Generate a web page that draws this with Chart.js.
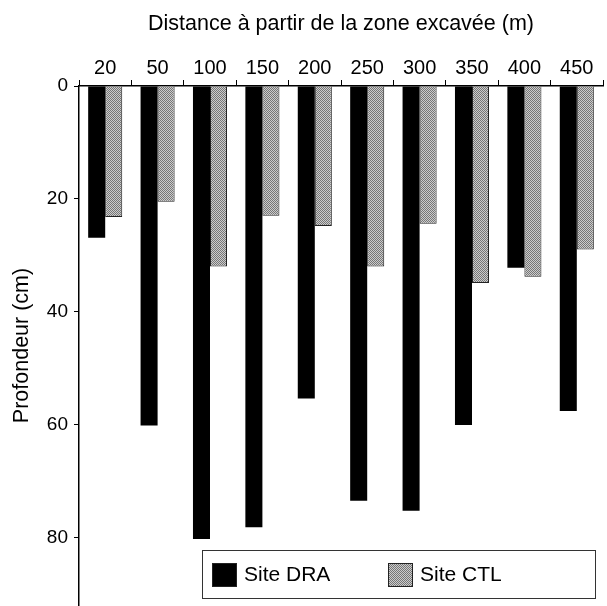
<!DOCTYPE html>
<html>
<head>
<meta charset="utf-8">
<script src="https://cdn.jsdelivr.net/npm/chart.js@4.4.0/dist/chart.umd.min.js"></script>
<style>
html,body{margin:0;padding:0;background:#fff;}
#wrap{width:607px;height:606px;position:relative;}
</style>
</head>
<body>
<div id="wrap"><canvas id="c" width="607" height="606"></canvas></div>
<script>
const categories = ["20","50","100","150","200","250","300","350","400","450"];
const seriesNames = ["Site DRA","Site CTL"];
const draDepth = [26.9, 60.2, 80.3, 78.2, 55.4, 73.5, 75.3, 60.1, 32.2, 57.6];
const ctlDepth = [23.2, 20.5, 32.0, 23.0, 24.8, 32.0, 24.4, 34.9, 33.8, 29.0];
const yTicks = [0, 20, 40, 60, 80];
const xTitle = "Distance à partir de la zone excavée (m)";
const yTitle = "Profondeur (cm)";

function makePattern(){
  const p = document.createElement('canvas');
  p.width = 2; p.height = 2;
  const g = p.getContext('2d');
  g.fillStyle = '#cccccc'; g.fillRect(0,0,2,2);
  g.fillStyle = '#767676'; g.fillRect(0,0,1,1); g.fillRect(1,1,1,1);
  return document.getElementById('c').getContext('2d').createPattern(p,'repeat');
}
const grey = makePattern();
const FONT = "'Liberation Sans', Arial, sans-serif";

const legendBox = {
  id: 'legendBox',
  afterDraw(chart){
    const ctx = chart.ctx;
    ctx.save();
    const x0 = 202, y0 = 550, w = 393, h = 48;
    ctx.fillStyle = '#fff';
    ctx.fillRect(x0, y0, w, h);
    ctx.strokeStyle = '#333';
    ctx.lineWidth = 1;
    ctx.strokeRect(x0+0.5, y0+0.5, w, h);
    const items = chart.data.datasets;
    const xs = [212, 388];
    ctx.font = "21px " + FONT;
    ctx.textBaseline = 'middle';
    items.forEach((ds, i) => {
      ctx.fillStyle = ds.backgroundColor;
      ctx.fillRect(xs[i], 563, 25, 24);
      ctx.strokeStyle = '#222';
      ctx.strokeRect(xs[i]+0.5, 563.5, 24, 23);
      ctx.fillStyle = '#000';
      ctx.fillText(ds.label, xs[i] + 32, 575);
    });
    ctx.restore();
  }
};

new Chart(document.getElementById('c'), {
  type: 'bar',
  data: {
    labels: categories,
    datasets: [
      { label: seriesNames[0], data: draDepth, backgroundColor: '#000', borderColor: '#000', borderWidth: 0 },
      { label: seriesNames[1], data: ctlDepth, backgroundColor: grey, borderColor: '#222', borderWidth: 1 }
    ]
  },
  options: {
    responsive: false,
    animation: false,
    layout: { padding: { left: 0, right: 4, top: 0, bottom: 1 } },
    datasets: { bar: { categoryPercentage: 0.65, barPercentage: 1.0 } },
    plugins: { legend: { display: false }, tooltip: { enabled: false } },
    scales: {
      x: {
        position: 'top',
        offset: true,
        afterFit(axis){ axis.height = 86; axis.paddingLeft = 0; axis.paddingRight = 0; },
        grid: { offset: true, drawOnChartArea: false, drawTicks: true, tickLength: 6, color: '#000', lineWidth: 1 },
        border: { display: true, color: '#000', width: 1.5 },
        ticks: { color: '#000', font: { size: 20, family: FONT }, padding: 0, maxRotation: 0, autoSkip: false },
        title: { display: true, text: xTitle, color: '#000', font: { size: 21.5, family: FONT }, padding: { top: 11, bottom: 0 } }
      },
      y: {
        reverse: true,
        min: 0,
        max: 92,
        afterFit(axis){ axis.width = 79; axis.paddingTop = 0; axis.paddingBottom = 0; },
        afterBuildTicks(axis){ axis.ticks = yTicks.map(v => ({ value: v })); },
        grid: { drawOnChartArea: false, drawTicks: true, tickLength: 5, color: '#000' },
        border: { display: true, color: '#000', width: 1.5 },
        ticks: { color: '#000', font: { size: 19, family: FONT }, padding: 6 },
        title: { display: true, text: yTitle, color: '#000', font: { size: 21.5, family: FONT }, padding: { top: 9, bottom: 0 } }
      }
    }
  },
  plugins: [legendBox]
});
</script>
</body>
</html>
